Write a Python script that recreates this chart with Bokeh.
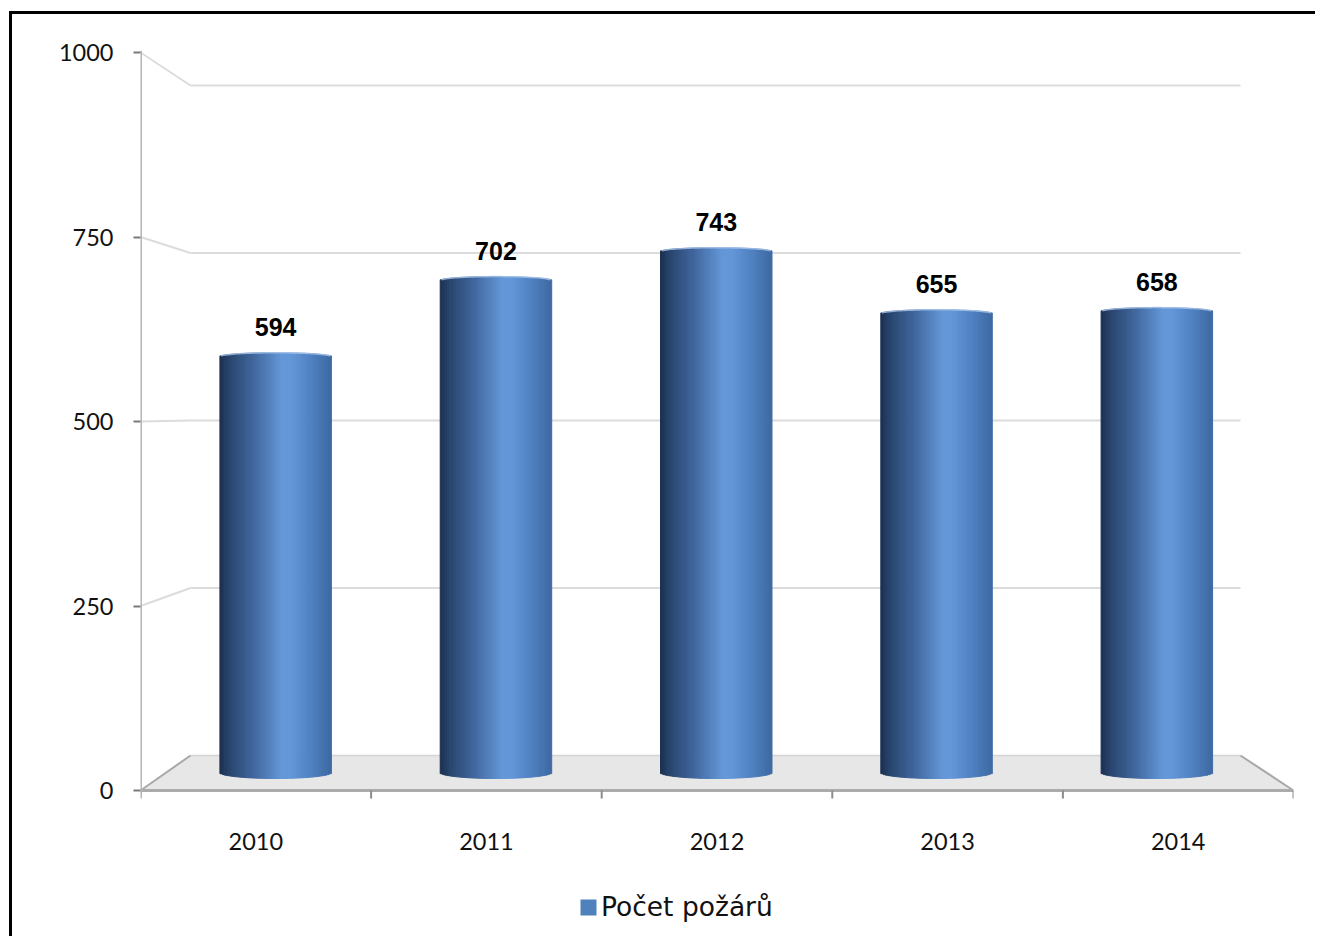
import numpy as np
from bokeh.plotting import figure
from bokeh.models import (Range1d, FixedTicker, LinearAxis, ColumnDataSource,
                          LabelSet, Legend, LegendItem)
from bokeh.core.properties import value
from bokeh.embed import file_html
from bokeh.resources import INLINE

# ---------------- data ----------------
years = ["2010", "2011", "2012", "2013", "2014"]
fires = [594, 702, 743, 655, 658]
y_ticks = [0, 250, 500, 750, 1000]
series_name = "Počet požárů"

# ---------------- layout geometry (page px of the pseudo-3D box) ----------------
OX, OY = 12, 14            # canvas origin on the page (margin + 3px border)
W, H = 1306, 925
FL, FR, FT, FB = 140, 1293, 50, OY + H
AXIS_BOTTOM = 798          # where the vertical axis line ends (page px)
XLAB_BASE = 841            # baseline of the category labels (page px)
N = len(years)
planes = {
    "front": dict(x0=140, x1=1293, y0=790, s=0.738),
    "mid":   dict(x0=165, x1=1266.5, y0=775, s=0.705),
    "back":  dict(x0=190, x1=1240, y0=755, s=0.670),
}


def sx_of(pl):
    return (pl["x1"] - pl["x0"]) / N


def xr(pl):
    return Range1d((FL - pl["x0"]) / sx_of(pl), (FR - pl["x0"]) / sx_of(pl))


def yr(pl):
    return Range1d((pl["y0"] - FB) / pl["s"], (pl["y0"] - FT) / pl["s"])


def conv(src, dst, xu, yu):
    a, b = planes[src], planes[dst]
    px = a["x0"] + xu * sx_of(a)
    py = a["y0"] - yu * a["s"]
    return (px - b["x0"]) / sx_of(b), (b["y0"] - py) / b["s"]


def py_to(plane, py):
    return (planes[plane]["y0"] - py) / planes[plane]["s"]


p = figure(width=W, height=H, x_range=xr(planes["front"]), y_range=yr(planes["front"]),
           x_axis_type=None, y_axis_type=None,
           output_backend="svg", toolbar_location=None,
           min_border_left=FL - OX, min_border_right=W - (FR - OX),
           min_border_top=FT - OY, min_border_bottom=0)
p.outline_line_color = None
p.background_fill_color = "white"
p.border_fill_color = "white"
p.grid.visible = False
p.styles = {"border-top": "3px solid black", "border-left": "3px solid black",
            "margin-left": "9px", "margin-top": "11px"}
p.extra_x_ranges = {"mid": xr(planes["mid"]), "back": xr(planes["back"])}
p.extra_y_ranges = {"mid": yr(planes["mid"]), "back": yr(planes["back"])}

# ---------------- floor ----------------
fl = conv("front", "back", 0, 0)
fr = conv("front", "back", N, 0)
p.patch([fl[0], 0, N, fr[0]], [fl[1], 0, 0, fr[1]], x_range_name="back", y_range_name="back",
        fill_color="#e7e7e7", line_color=None)
p.segment(x0=[0], y0=[0], x1=[N], y1=[0], x_range_name="back", y_range_name="back",
          line_color="#d4d4d4", line_width=1.5)
p.segment(x0=[fl[0], fr[0]], y0=[fl[1], fr[1]], x1=[0, N], y1=[0, 0],
          x_range_name="back", y_range_name="back", line_color="#a8a8a8", line_width=2)

# ---------------- back wall grid + side wall diagonals ----------------
gv = y_ticks[1:]
p.segment(x0=[0] * len(gv), y0=gv, x1=[N] * len(gv), y1=gv,
          x_range_name="back", y_range_name="back", line_color="#dcdcdc", line_width=2)
dstart = [conv("front", "back", 0, v) for v in gv]
p.segment(x0=[d[0] for d in dstart], y0=[d[1] for d in dstart], x1=[0] * len(gv), y1=gv,
          x_range_name="back", y_range_name="back", line_color="#dcdcdc", line_width=2)

# front floor edge and category boundary ticks
p.segment(x0=[0], y0=[0], x1=[N], y1=[0], line_color="#ababab", line_width=3)
tick_bottom = py_to("front", AXIS_BOTTOM)
p.segment(x0=list(range(1, N + 1)), y0=[0] * N, x1=list(range(1, N + 1)),
          y1=[tick_bottom] * N, line_color="#8c8c8c", line_width=2)
# vertical value-axis line
p.segment(x0=[0], y0=[tick_bottom], x1=[0], y1=[py_to("front", FT)],
          line_color="#b5b5b5", line_width=3)

# ---------------- cylinders (strips with gradient) ----------------
stops = [(0.0, (0x1b, 0x2f, 0x4e)), (0.08, (0x28, 0x44, 0x6c)), (0.30, (0x40, 0x66, 0x9c)),
         (0.56, (0x64, 0x97, 0xd8)), (0.64, (0x64, 0x97, 0xd8)), (0.82, (0x50, 0x82, 0xc2)),
         (1.0, (0x3e, 0x6a, 0xa2))]


def grad(t):
    for (t0, c0), (t1, c1) in zip(stops[:-1], stops[1:]):
        if t0 <= t <= t1:
            f = (t - t0) / (t1 - t0) if t1 > t0 else 0
            return "#%02x%02x%02x" % tuple(int(round(a + (b - a) * f)) for a, b in zip(c0, c1))
    return "#%02x%02x%02x" % stops[-1][1]


BW = 0.505
NS = 48
sm = planes["mid"]["s"]
xs, tops, bots, cols = [], [], [], []
hx, hy = [], []
for i, v in enumerate(fires):
    lx, ly = [], []
    for k in range(NS):
        t = (k + 0.5) / NS
        u = 2 * t - 1
        e = np.sqrt(max(0.0, 1 - u * u))
        xs.append(i + 0.5 + (t - 0.5) * BW)
        tops.append(v + 4 * e / sm)
        bots.append((3 - 6 * e) / sm)
        cols.append(grad(t))
        lx.append(i + 0.5 + (t - 0.5) * BW)
        ly.append(v + 4 * e / sm)
    hx.append(lx)
    hy.append(ly)

src = ColumnDataSource(dict(x=xs, top=tops, bottom=bots, c=cols))
p.vbar(x="x", top="top", bottom="bottom", width=BW / NS * 1.1, source=src,
       fill_color="c", line_color="c", line_width=1,
       x_range_name="mid", y_range_name="mid")
p.multi_line(hx, hy, line_color="#a9c4ea", line_width=1.5, line_alpha=0.8,
             x_range_name="mid", y_range_name="mid")

# data labels
lab_src = ColumnDataSource(dict(x=[i + 0.5 for i in range(N)], y=fires,
                                t=[str(v) for v in fires]))
p.add_layout(LabelSet(x="x", y="y", text="t", source=lab_src,
                      x_range_name="mid", y_range_name="mid",
                      y_offset=21, text_align="center", text_baseline="alphabetic",
                      text_font=value("Liberation Sans"), text_font_style="bold",
                      text_font_size="25px", text_color="black"))

# category labels
xl_src = ColumnDataSource(dict(x=[i + 0.5 for i in range(N)],
                               y=[py_to("front", XLAB_BASE)] * N, t=years))
p.text(x="x", y="y", text="t", source=xl_src, text_align="center",
       text_baseline="alphabetic", text_font=value("Lato"),
       text_font_size="23.5px", text_color="#111111")

# ---------------- value axis ----------------
yax = LinearAxis(ticker=FixedTicker(ticks=y_ticks))
yax.axis_line_color = None
yax.major_tick_line_color = "#7a7a7a"
yax.major_tick_line_width = 2
yax.major_tick_out = 7
yax.major_tick_in = 0
yax.minor_tick_line_color = None
yax.major_label_standoff = 20
yax.major_label_text_font = "Lato"
yax.major_label_text_font_size = "23.5px"
yax.major_label_text_color = "#111111"
p.add_layout(yax, "left")

# ---------------- legend ----------------
proxy = p.vbar(x=[0.5], top=[0], bottom=[0], width=0.5,
               fill_color="#4f81bd", line_color=None)
leg = Legend(items=[LegendItem(label=series_name, renderers=[proxy])],
             location=(438, 17), orientation="horizontal",
             border_line_color=None, background_fill_alpha=0,
             label_text_font="DejaVu Sans", label_text_font_size="26.5px",
             label_text_color="#111111",
             glyph_width=20, glyph_height=20, label_standoff=3,
             padding=0, margin=0, spacing=0)
p.add_layout(leg, "center")

open("out.html", "w").write(file_html(p, INLINE))
